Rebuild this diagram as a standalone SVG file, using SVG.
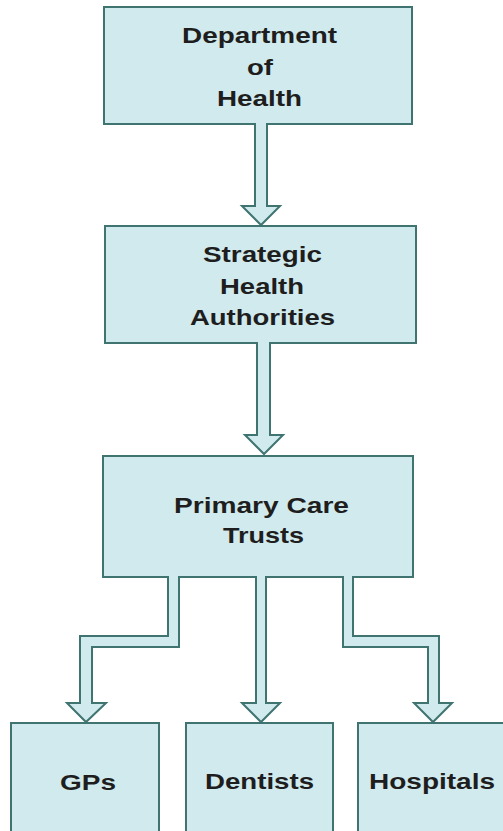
<svg xmlns="http://www.w3.org/2000/svg" width="503" height="831" viewBox="0 0 503 831">
<style>
.box{fill:#d1eaed;stroke:#3f7471;stroke-width:2}
.conn{fill:#d1eaed;stroke:#3f7471;stroke-width:2;stroke-linejoin:miter}
text{font-family:"Liberation Sans",Arial,Helvetica,sans-serif;font-weight:bold;font-size:22px;fill:#1e1e1e;text-anchor:middle}
</style>
<rect width="503" height="831" fill="#ffffff"/>
<g id="node-doh">
<rect class="box" x="104" y="7" width="308" height="117"/>
<text x="259.5" y="43" textLength="155" lengthAdjust="spacingAndGlyphs">Department</text>
<text x="260" y="75" textLength="26" lengthAdjust="spacingAndGlyphs">of</text>
<text x="259.5" y="106" textLength="85" lengthAdjust="spacingAndGlyphs">Health</text>
</g>
<g id="node-sha">
<rect class="box" x="105" y="226" width="311" height="117"/>
<text x="262.5" y="262" textLength="119" lengthAdjust="spacingAndGlyphs">Strategic</text>
<text x="262" y="294" textLength="84" lengthAdjust="spacingAndGlyphs">Health</text>
<text x="262.5" y="325" textLength="145" lengthAdjust="spacingAndGlyphs">Authorities</text>
</g>
<g id="node-pct">
<rect class="box" x="103" y="456" width="310" height="121"/>
<text x="261.5" y="513" textLength="175" lengthAdjust="spacingAndGlyphs">Primary Care</text>
<text x="263.5" y="543" textLength="81" lengthAdjust="spacingAndGlyphs">Trusts</text>
</g>
<g id="node-gps">
<rect class="box" x="11" y="723" width="148" height="130"/>
<text x="88" y="790" textLength="56" lengthAdjust="spacingAndGlyphs">GPs</text>
</g>
<g id="node-dentists">
<rect class="box" x="186" y="723" width="147" height="130"/>
<text x="259.5" y="789" textLength="109" lengthAdjust="spacingAndGlyphs">Dentists</text>
</g>
<g id="node-hospitals">
<rect class="box" x="358" y="723" width="160" height="130"/>
<text x="432" y="789" textLength="126" lengthAdjust="spacingAndGlyphs">Hospitals</text>
</g>
<g id="connectors">
<path class="conn" d="M255,123 V206 H242 L261,225 L280,206 H267 V123"/>
<path class="conn" d="M257,342 V435 H245 L264,454 L283,435 H270 V342"/>
<path class="conn" d="M256,576 V703 H242 L261,722 L280,703 H266 V576"/>
<path class="conn" d="M168,576 V636 H80 V703 H67 L86,722 L106,703 H92 V647 H179 V576"/>
<path class="conn" d="M343,576 V647 H428 V703 H414 L433,722 L452,703 H439 V636 H353 V576"/>
</g>
</svg>
